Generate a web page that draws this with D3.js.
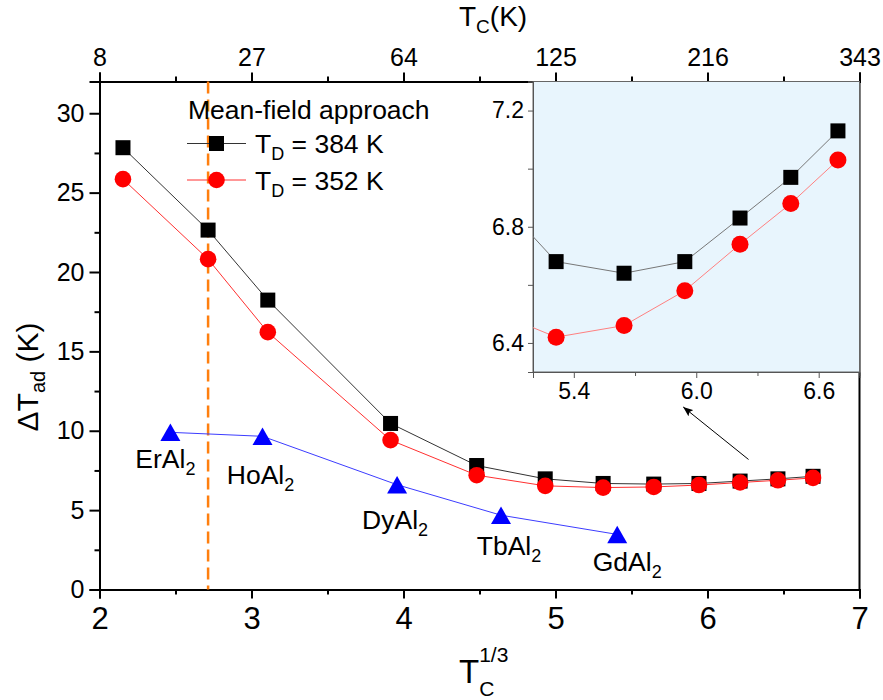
<!DOCTYPE html>
<html>
<head>
<meta charset="utf-8">
<script src="https://cdn.jsdelivr.net/npm/d3@7"></script>
<style>
  body { margin: 0; background: #fff; }
  svg { display: block; font-family: "Liberation Sans", Arial, sans-serif; }
</style>
</head>
<body>
<svg id="chart" width="883" height="700"></svg>
<script>
// Mean-field model: Curie temperatures (K)
const modelTc = [10, 20, 30, 60, 90, 120, 150, 180, 210, 240, 270, 300];
// Adiabatic temperature change (K) for Debye temperature 384 K
const dT384 = [27.83, 22.64, 18.23, 10.46, 7.81, 6.97, 6.68, 6.64, 6.68, 6.83, 6.97, 7.13];
// Adiabatic temperature change (K) for Debye temperature 352 K
const dT352 = [25.85, 20.81, 16.21, 9.41, 7.20, 6.53, 6.42, 6.46, 6.58, 6.74, 6.88, 7.03];

// RAl2 compounds
const compounds = ["ErAl", "HoAl", "DyAl", "TbAl", "GdAl"];
const compoundTc = [15, 29, 62, 100, 158];
const compoundDT = [9.9, 9.65, 6.6, 4.68, 3.47];
// label offsets from each triangle (px)
const labelDx = [-5, -2, -2, 8, 10];
const labelDy = [36, 48, 44, 40, 37];

// ticks
const xTicks = [2, 3, 4, 5, 6, 7];
const xMinor = [2.5, 3.5, 4.5, 5.5, 6.5];
const topTickLabels = ["8", "27", "64", "125", "216", "343"];
const yTicks = [0, 5, 10, 15, 20, 25, 30];
const yMinor = [2.5, 7.5, 12.5, 17.5, 22.5, 27.5];
const insetXTicks = [5.4, 6.0, 6.6];
const insetXMinor = [5.7, 6.3];
const insetYTicks = [6.4, 6.8, 7.2];
const insetYMinor = [6.6, 7.0];

const refTc = 20;                 // dashed reference line
const arrowFrom = [6.27, 8.19];   // arrow pointing to the zoomed region
const arrowTo = [5.84, 11.5];

const svg = d3.select("#chart");
const FONT = '"Liberation Sans", Arial, sans-serif';

const x = d3.scaleLinear().domain([2, 7]).range([99.5, 859.5]);
const y = d3.scaleLinear().domain([0, 32]).range([589.5, 81.5]);

const model384 = modelTc.map((t, i) => ({ x: Math.cbrt(t), v: dT384[i] }));
const model352 = modelTc.map((t, i) => ({ x: Math.cbrt(t), v: dT352[i] }));
const expData = compounds.map((c, i) => ({ name: c, x: Math.cbrt(compoundTc[i]), v: compoundDT[i], dx: labelDx[i], dy: labelDy[i] }));

// ---------- axes ----------
function styleAxis(g, size) {
  g.select(".domain").attr("stroke", "#000").attr("stroke-width", 2);
  g.selectAll(".tick line").attr("stroke", "#000").attr("stroke-width", 2);
  g.selectAll(".tick text").attr("font-family", FONT).attr("font-size", size).attr("fill", "#000");
}

// bottom
svg.append("g").attr("transform", "translate(0,589.5)")
  .call(d3.axisBottom(x).tickValues(xMinor).tickSize(5).tickFormat(""))
  .call(g => styleAxis(g, 0));
svg.append("g").attr("transform", "translate(0,589.5)")
  .call(d3.axisBottom(x).tickValues(xTicks).tickSize(9).tickPadding(8).tickFormat(d3.format("d")))
  .call(g => styleAxis(g, 31));

// top
svg.append("g").attr("transform", "translate(0,81.5)")
  .call(d3.axisTop(x).tickValues(xMinor).tickSize(5).tickFormat(""))
  .call(g => styleAxis(g, 0));
svg.append("g").attr("transform", "translate(0,81.5)")
  .call(d3.axisTop(x).tickValues(xTicks).tickSize(9).tickPadding(7).tickFormat((d, i) => topTickLabels[i]))
  .call(g => styleAxis(g, 25));

// left
svg.append("g").attr("transform", "translate(99.5,0)")
  .call(d3.axisLeft(y).tickValues(yMinor).tickSize(5).tickFormat(""))
  .call(g => styleAxis(g, 0));
svg.append("g").attr("transform", "translate(99.5,0)")
  .call(d3.axisLeft(y).tickValues(yTicks).tickSize(10).tickPadding(5).tickFormat(d3.format("d")))
  .call(g => styleAxis(g, 25));

// right
svg.append("line").attr("x1", 859.5).attr("x2", 859.5).attr("y1", 81.5).attr("y2", 589.5)
  .attr("stroke", "#000").attr("stroke-width", 2);

// ---------- axis titles ----------
const topTitle = svg.append("text").attr("x", 459).attr("y", 26).attr("font-size", 28).attr("fill", "#000");
topTitle.append("tspan").text("T");
topTitle.append("tspan").attr("font-size", 19).attr("dy", 7).text("C");
topTitle.append("tspan").attr("dy", -7).text("(K)");

const bT = svg.append("text").attr("x", 459).attr("y", 683).attr("font-size", 33).attr("fill", "#000").text("T");
const tW = bT.node().getComputedTextLength();
svg.append("text").attr("x", 459 + tW).attr("y", 696).attr("font-size", 21).attr("fill", "#000").text("C");
svg.append("text").attr("x", 459 + tW).attr("y", 662).attr("font-size", 21).attr("fill", "#000").text("1/3");

const yTitle = svg.append("text").attr("transform", "translate(38,377) rotate(-90)")
  .attr("text-anchor", "middle").attr("font-size", 30).attr("fill", "#000");
yTitle.append("tspan").text("\u0394T");
yTitle.append("tspan").attr("font-size", 20).attr("dy", 7).text("ad");
yTitle.append("tspan").attr("dy", -7).text(" (K)");

// ---------- dashed reference line ----------
svg.append("line")
  .attr("x1", x(Math.cbrt(refTc))).attr("x2", x(Math.cbrt(refTc)))
  .attr("y1", y(32)).attr("y2", y(0))
  .attr("stroke", "#ff7f0e").attr("stroke-width", 2.5).attr("stroke-dasharray", "12,6");

// ---------- series ----------
const line = d3.line().x(d => x(d.x)).y(d => y(d.v));
svg.append("path").datum(expData).attr("d", line).attr("fill", "none").attr("stroke", "#3c3cff").attr("stroke-width", 1);
svg.append("path").datum(model384).attr("d", line).attr("fill", "none").attr("stroke", "#333").attr("stroke-width", 1);
svg.append("path").datum(model352).attr("d", line).attr("fill", "none").attr("stroke", "#ff3030").attr("stroke-width", 1);

const SQ = 15, CR = 8.3;
function squares(g, data, sx, sy, s) {
  g.selectAll(null).data(data).enter().append("rect")
    .attr("x", d => sx(d.x) - s / 2).attr("y", d => sy(d.v) - s / 2)
    .attr("width", s).attr("height", s).attr("fill", "#000");
}
function circles(g, data, sx, sy, r) {
  g.selectAll(null).data(data).enter().append("circle")
    .attr("cx", d => sx(d.x)).attr("cy", d => sy(d.v)).attr("r", r).attr("fill", "#ff0000");
}
const mainMarks = svg.append("g");
squares(mainMarks, model384, x, y, SQ);
circles(mainMarks, model352, x, y, CR);

const triW = 20, triH = 17.5;
mainMarks.selectAll(null).data(expData).enter().append("path")
  .attr("d", `M0,${-triH / 2}L${triW / 2},${triH / 2}L${-triW / 2},${triH / 2}Z`)
  .attr("transform", d => `translate(${x(d.x)},${y(d.v)})`)
  .attr("fill", "#0000ff");

const labels = svg.append("g").attr("font-size", 26.5).attr("fill", "#000");
expData.forEach(d => {
  const t = labels.append("text").attr("x", x(d.x) + d.dx).attr("y", y(d.v) + d.dy).attr("text-anchor", "middle");
  t.append("tspan").text(d.name);
  t.append("tspan").attr("font-size", 18).attr("dy", 7).text("2");
});

// ---------- arrow ----------
svg.append("defs").append("marker")
  .attr("id", "arrowhead").attr("viewBox", "0 0 10 8").attr("refX", 10).attr("refY", 4)
  .attr("markerWidth", 10).attr("markerHeight", 8).attr("markerUnits", "userSpaceOnUse").attr("orient", "auto")
  .append("path").attr("d", "M0,0L10,4L0,8L2,4Z").attr("fill", "#000");
svg.append("line")
  .attr("x1", x(arrowFrom[0])).attr("y1", y(arrowFrom[1]))
  .attr("x2", x(arrowTo[0])).attr("y2", y(arrowTo[1]))
  .attr("stroke", "#000").attr("stroke-width", 1).attr("marker-end", "url(#arrowhead)");

// ---------- legend ----------
const legend = svg.append("g").attr("fill", "#000");
legend.append("text").attr("x", 188).attr("y", 119).attr("font-size", 26.5).text("Mean-field approach");
const legendRows = [
  { label: "384 K", yc: 143.5, kind: "sq", color: "#333" },
  { label: "352 K", yc: 180, kind: "ci", color: "#ff3030" }
];
legendRows.forEach(r => {
  legend.append("line").attr("x1", 187).attr("x2", 246).attr("y1", r.yc).attr("y2", r.yc)
    .attr("stroke", r.color).attr("stroke-width", 1);
  if (r.kind === "sq") {
    legend.append("rect").attr("x", 216.5 - SQ / 2).attr("y", r.yc - SQ / 2).attr("width", SQ).attr("height", SQ).attr("fill", "#000");
  } else {
    legend.append("circle").attr("cx", 216.5).attr("cy", r.yc).attr("r", CR).attr("fill", "#ff0000");
  }
  const t = legend.append("text").attr("x", 255).attr("y", r.yc + 9.5).attr("font-size", 26.5);
  t.append("tspan").text("T");
  t.append("tspan").attr("font-size", 18).attr("dy", 7).text("D");
  t.append("tspan").attr("dy", -7).text(" = " + r.label);
});

// ---------- inset ----------
const xi = d3.scaleLinear().domain([5.2, 6.8]).range([533, 859.5]);
const yi = d3.scaleLinear().domain([6.3, 7.3]).range([372, 81.5]);
const inset = svg.append("g");
inset.append("rect").attr("x", 533).attr("y", 81.5).attr("width", 859.5 - 533).attr("height", 372 - 81.5)
  .attr("fill", "#e8f5fd").attr("stroke", "#666").attr("stroke-width", 1);
inset.append("clipPath").attr("id", "insetClip").append("rect")
  .attr("x", 533).attr("y", 81.5).attr("width", 859.5 - 533).attr("height", 372 - 81.5);

function styleInset(g) {
  g.select(".domain").attr("stroke", "#555").attr("stroke-width", 1);
  g.selectAll(".tick line").attr("stroke", "#555").attr("stroke-width", 1);
  g.selectAll(".tick text").attr("font-family", FONT).attr("font-size", 23).attr("fill", "#000");
}
inset.append("g").attr("transform", "translate(0,372)")
  .call(d3.axisBottom(xi).tickValues(insetXMinor).tickSize(4).tickFormat("")).call(styleInset);
inset.append("g").attr("transform", "translate(0,372)")
  .call(d3.axisBottom(xi).tickValues(insetXTicks).tickSize(6).tickPadding(5).tickFormat(d3.format(".1f"))).call(styleInset);
inset.append("g").attr("transform", "translate(533,0)")
  .call(d3.axisLeft(yi).tickValues(insetYMinor).tickSize(5).tickFormat("")).call(styleInset);
inset.append("g").attr("transform", "translate(533,0)")
  .call(d3.axisLeft(yi).tickValues(insetYTicks).tickSize(5).tickPadding(4).tickFormat(d3.format(".1f"))).call(styleInset);

const insetPlot = inset.append("g").attr("clip-path", "url(#insetClip)");
const lineI = d3.line().x(d => xi(d.x)).y(d => yi(d.v));
insetPlot.append("path").datum(model384).attr("d", lineI).attr("fill", "none").attr("stroke", "#777").attr("stroke-width", 1);
insetPlot.append("path").datum(model352).attr("d", lineI).attr("fill", "none").attr("stroke", "#ff8080").attr("stroke-width", 1);
squares(insetPlot, model384, xi, yi, 15);
circles(insetPlot, model352, xi, yi, 8.5);
</script>
</body>
</html>
